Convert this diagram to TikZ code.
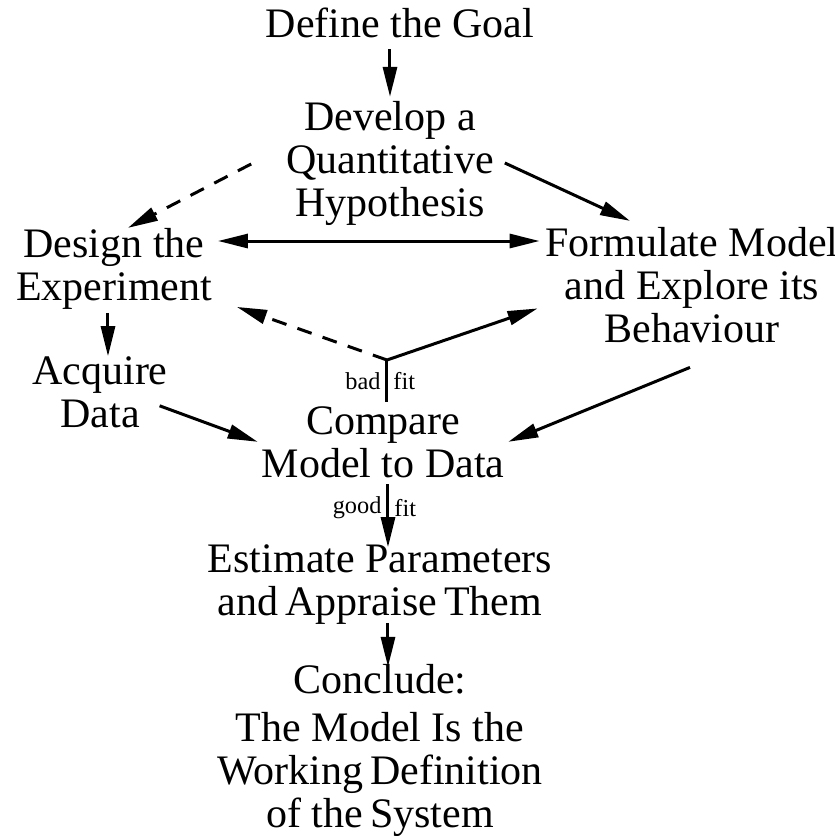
\documentclass[tikz,border=0pt]{standalone}
\usepackage{fontspec}
\setmainfont{Liberation Serif}
\usetikzlibrary{arrows.meta,calc}

\begin{document}
\begin{tikzpicture}[x=0.3pt, y=-0.3pt,
    stage/.style={align=center, inner sep=1pt, anchor=base,
        font=\fontsize{12.6}{12.9}\selectfont},
    tag/.style={inner sep=1.5pt, font=\fontsize{7.3}{8}\selectfont},
    link/.style={line width=0.9pt, -{Triangle[length=9pt,width=4.2pt]}},
    guess/.style={link, dash pattern=on 4.5pt off 3.5pt},
    plain/.style={line width=0.9pt}
]
    \useasboundingbox (0,0) rectangle (835,836);

    % nodes sit on the baseline of their last line
    \node[stage] (goal) at (400,37) {Define the Goal};
    \node[stage] (hypo) at (390,216) {Develop a\\Quantitative\\Hypothesis};
    \node[stage] (design) at (114,300) {Design the\\Experiment};
    \node[stage] (model) at (692,342) {Formulate Model\\and Explore its\\Behaviour};
    \node[stage] (data) at (100,427) {Acquire\\Data};
    \node[stage] (compare) at (383,477) {Compare\\Model to Data};
    \node[stage] (estimate) at (380,615) {Estimate Parameters\\and\,Appraise\,Them};
    \node[stage] (conclude) at (380,827)
        {Conclude:\\[1.5pt]The Model Is the\\Working\,Definition\\of the\,System};
    \coordinate (fork) at (387,360);

    \draw[link] ($(hypo.north |- goal.south)+(0,8)$) -- (hypo.north);
    \draw[guess] ($(hypo.west)+(-31,1)$) -- ($(design.north)+(14,4)$);
    \draw[link] ($(hypo.east)+(7,0)$) -- ($(model.north)+(-62,-2)$);
    \draw[link, {Triangle[length=9pt,width=4.2pt]}-{Triangle[length=9pt,width=4.2pt]}]
        ($(design.base east)+(2,-59)$) -- ($(model.base west)+(-2,-101)$);
    \draw[link] ($(design.south)+(-6,0)$) -- ($(data.north)+(8,4)$);

    \draw[guess] (fork) -- ($(design.south east)+(21,-6)$);
    \draw[link] (fork) -- ($(model.south west)+(-4,-38)$);
    \draw[plain] (fork) -- node[tag, left] {bad} node[tag, right] {fit}
        (fork |- compare.north);

    \draw[link] ($(data.east)+(-12,14)$) -- (compare.west);
    \draw[link] ($(model.south)+(-2,21)$) -- (compare.east);
    \draw[link] ($(compare.south)+(5,3)$) --
        node[tag, left, pos=.37] {good} node[tag, right, pos=.37] {fit}
        ($(estimate.north)+(8,7)$);
    \draw[link] ($(estimate.south)+(8,-5)$) -- ($(conclude.north)+(8,7)$);
\end{tikzpicture}
\end{document}
